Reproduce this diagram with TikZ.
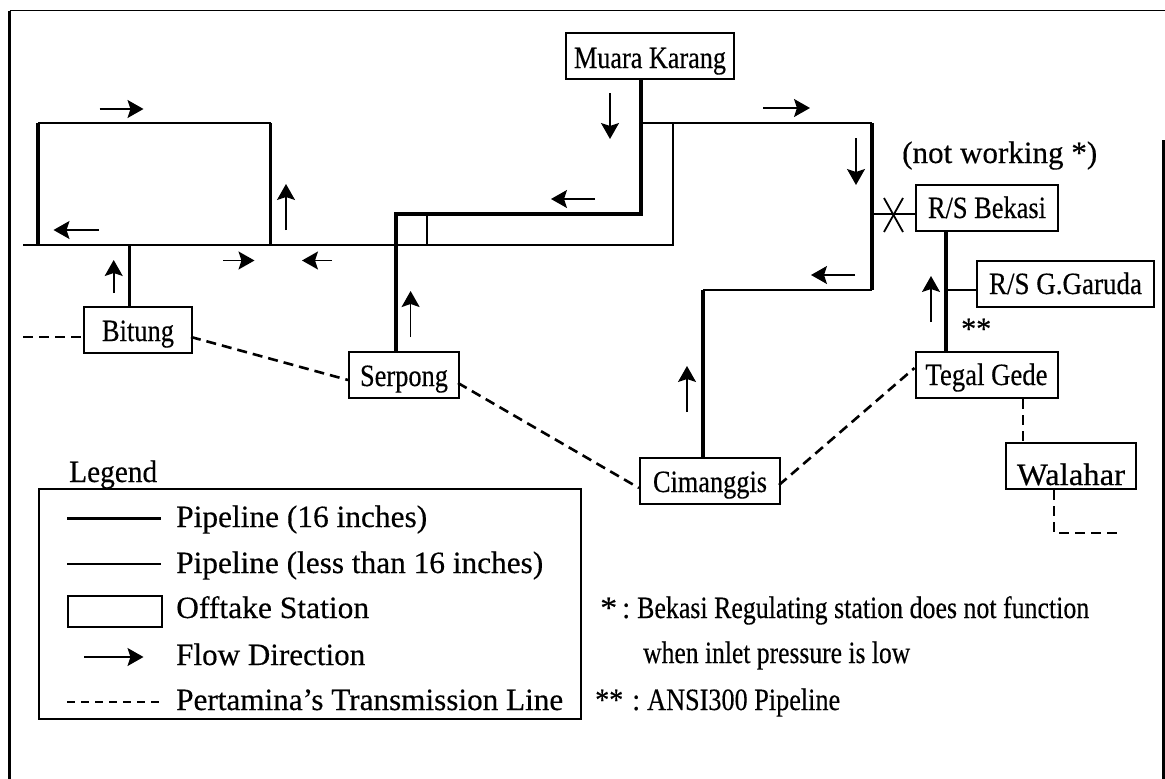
\documentclass[tikz,border=0pt]{standalone}
\usepackage{fontspec}
\usepackage{graphicx}
\setmainfont[FakeBold=0.35]{Liberation Serif}
\usetikzlibrary{arrows.meta}
\newcommand{\fit}[2]{\resizebox{#1pt}{\height}{\fontsize{31}{33}\selectfont #2}}
\newcommand{\low}[2]{\raisebox{-#1pt}[0pt][0pt]{#2}}
\tikzset{
  thickpipe/.style={line width=3.6pt,black},
  thinpipe/.style={line width=1.8pt,black},
  trans/.style={line width=2.6pt,black,dash pattern=on 10pt off 6pt},
  flow/.style={line width=1.6pt,black,-{Stealth[length=16pt,width=18pt,inset=3pt]}},
  station/.style={draw=black,line width=2pt,fill=white,inner sep=0pt,minimum height=46pt,anchor=north west},
  lab/.style={inner sep=0pt,anchor=base west},
  frameline/.style={line width=3pt,black}
}
\begin{document}
\begin{tikzpicture}[x=1pt,y=-1pt]
\useasboundingbox (0,0) rectangle (1165,779);
\fill[white] (0,0) rectangle (1165,779);
% frame
\coordinate (ftl) at (9.5,10.5);
\coordinate (ftr) at (1165,10.5);
\coordinate (fbl) at (9.5,779);
\coordinate (frt) at (1163,140);
\coordinate (frb) at (1163,779);
\draw[thinpipe] (ftl) -- (ftr);
\draw[frameline] (ftl) -- (fbl);
\draw[frameline] (frt) -- (frb);
% junctions
\coordinate (mw) at (23,245);
\coordinate (rtl) at (38,123);
\coordinate (rtr) at (270.5,123);
\coordinate (rbl) at (38,245);
\coordinate (rbr) at (270.5,245);
\coordinate (bj) at (129.5,245);
\coordinate (sj) at (396,214);
\coordinate (mj) at (641,214);
\coordinate (tj) at (641,123);
\coordinate (tv) at (427,214);
\coordinate (tb) at (427,245);
\coordinate (me) at (673,245);
\coordinate (mt) at (673,123);
\coordinate (tr) at (872,123);
\coordinate (cr) at (872,290);
\coordinate (cl) at (703,290);
\coordinate (bx) at (872,214);
\coordinate (vj) at (946,290);
\coordinate (dl) at (23,337);
\coordinate (wc) at (1054,533);
\coordinate (we) at (1120,533);
% stations
\node[station,minimum width=168pt] (mk) at (565,32) {\low{12}{\fit{152}{Muara Karang}}};
\node[station,minimum width=108pt] (bi) at (83,306) {\low{11}{\fit{72}{Bitung}}};
\node[station,minimum width=110pt] (se) at (348,351) {\low{11}{\fit{88}{Serpong}}};
\node[station,minimum width=140pt] (ci) at (639,457) {\low{11}{\fit{114}{Cimanggis}}};
\node[station,minimum width=142pt] (te) at (914.5,351) {\low{10}{\fit{122}{Tegal Gede}}};
\node[station,minimum width=142pt] (be) at (915,184) {\low{10}{\fit{118}{R/S Bekasi}}};
\node[station,minimum width=177pt] (ga) at (976,260) {\low{10}{\fit{153}{R/S G.Garuda}}};
\node[station,minimum width=130pt] (wa) at (1005,442) {\low{19}{\fit{108}{Walahar}}};
% thick pipes
\draw[thickpipe] (mk.south -| tj) -- (mj) -- (sj) -- (se.north -| sj);
\draw[thickpipe] (rbl) -- (rtl);
\draw[thickpipe] (rbr) -- (rtr);
\draw[thickpipe] (tr) -- (cr);
\draw[thickpipe] (cl) -- (ci.north -| cl);
\draw[thickpipe] (be.south -| vj) -- (te.north -| vj);
% thin pipes
\draw[thinpipe] (rtl) -- (rtr);
\draw[thinpipe] (mw) -- (me) -- (mt);
\draw[thinpipe,line width=2.4pt] (tj) -- (tr);
\draw[thinpipe] (cr) -- (cl);
\draw[thinpipe] (tv) -- (tb);
\draw[thinpipe,line width=2.4pt] (bj) -- (bi.north -| bj);
\draw[thinpipe] (bx) -- (be.west |- bx);
\draw[thinpipe] (vj) -- (ga.west |- vj);
% valve X
\coordinate (xa) at (884,198);
\coordinate (xb) at (903,232);
\coordinate (xc) at (903,198);
\coordinate (xd) at (884,232);
\draw[thinpipe] (xa) -- (xb);
\draw[thinpipe] (xc) -- (xd);
% transmission
\coordinate (d1a) at (191,337); \coordinate (d1b) at (348,380);
\coordinate (d2a) at (458,383); \coordinate (d2b) at (639,488);
\coordinate (d3a) at (779,485); \coordinate (d3b) at (914.5,368);
\coordinate (wx) at (1023,420);
\draw[trans] (dl) -- (bi.west |- dl);
\draw[trans] (d1a) -- (d1b);
\draw[trans] (d2a) -- (d2b);
\draw[trans] (d3a) -- (d3b);
\draw[trans] (te.south -| wx) -- (wa.north -| wx);
\draw[trans] (wa.south -| wc) -- (wc) -- (we);
% flow arrows
\foreach \n/\xa/\ya/\xb/\yb in {
 a/99.5/109/143.5/109, b/99/230/53.5/230, c/286/230/286/184, d/223/260.5/254.5/260.5,
 e/332/260.5/302/260.5, f/113.7/293/113.7/260, g/410.6/337/410.6/291, h/595/199/551/199,
 i/610/93/610/139, j/763/108/810/108, k/856/138/856/185, l/855/275/811/275,
 m/931/322/931/276, n/687/412/687/366}{
  \coordinate (fs\n) at (\xa,\ya);
  \coordinate (fe\n) at (\xb,\yb);
  \draw[flow] (fs\n) -- (fe\n);
}
% labels
\node[lab] (nw) at (902,163) {\fit{195}{(not working *)}};
\node[lab] (ss) at (961,339) {\fit{30}{**}};
% legend
\node[lab] (lg) at (69,482) {\fit{88}{Legend}};
\node[draw=black,line width=2.2pt,inner sep=0pt,minimum width=542pt,minimum height=230pt,anchor=north west] (lb) at (38,488) {};
\coordinate (l1a) at (67,518); \coordinate (l1b) at (161,518);
\coordinate (l2a) at (67,564); \coordinate (l2b) at (161,564);
\coordinate (l4a) at (84,657); \coordinate (l4b) at (143.5,657);
\coordinate (l5a) at (67,702); \coordinate (l5b) at (161,702);
\draw[thickpipe,line width=3pt] (l1a) -- (l1b);
\draw[thinpipe] (l2a) -- (l2b);
\node[draw=black,line width=2pt,inner sep=0pt,minimum width=94pt,minimum height=31pt,anchor=north west] (l3) at (67,595) {};
\draw[flow] (l4a) -- (l4b);
\draw[trans,dash pattern=on 8pt off 6pt] (l5a) -- (l5b);
\node[lab] (t1) at (176,527) {\fit{251}{Pipeline (16 inches)}};
\node[lab] (t2) at (176,573) {\fit{367}{Pipeline (less than 16 inches)}};
\node[lab] (t3) at (176,618) {\fit{193}{Offtake Station}};
\node[lab] (t4) at (176,665) {\fit{189}{Flow Direction}};
\node[lab] (t5) at (176,710) {\fit{387}{Pertamina’s Transmission Line}};
% notes
\node[lab] (n1) at (600,618) {\fit{17}{*}};
\node[lab] (n2) at (622,618) {\fit{8}{:}};
\node[lab] (n3) at (637,618) {\fit{452}{Bekasi Regulating station does not function}};
\node[lab] (n4) at (643,663) {\fit{267}{when inlet pressure is low}};
\node[lab] (n5) at (595,710) {\fit{28}{**}};
\node[lab] (n6) at (632,710) {\fit{8}{:}};
\node[lab] (n7) at (647,710) {\fit{193}{ANSI300 Pipeline}};
\end{tikzpicture}
\end{document}
